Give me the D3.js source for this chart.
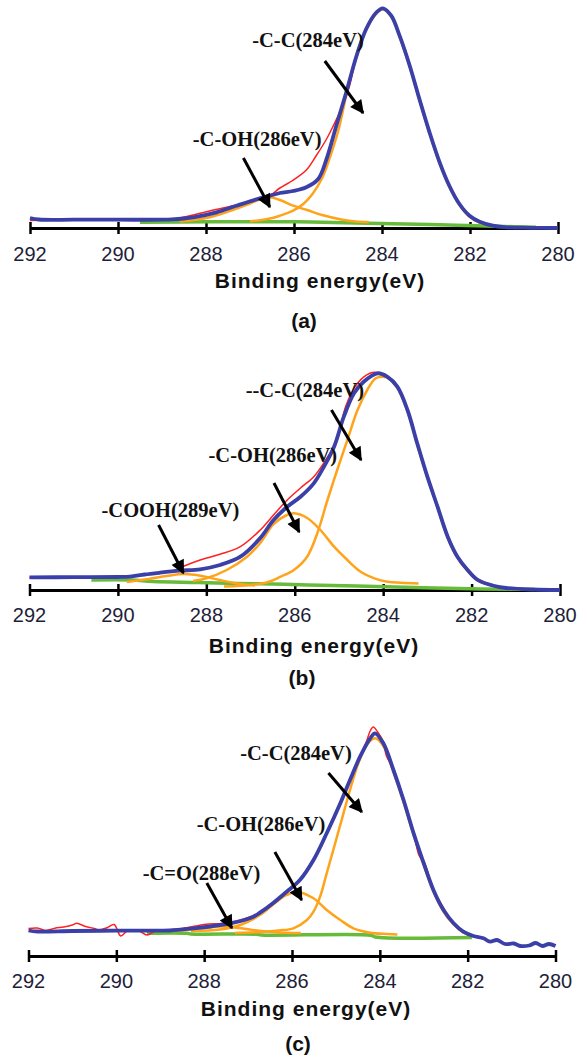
<!DOCTYPE html>
<html>
<head>
<meta charset="utf-8">
<script src="https://cdn.jsdelivr.net/npm/d3@7"></script>
<style>
  body { margin: 0; background: #fff; }
  svg { display: block; }
</style>
</head>
<body>
<svg id="chart" width="587" height="1064"></svg>
<script>
// XPS C1s spectra, three samples. values = [binding energy eV, intensity a.u.]
const ticks = [292, 290, 288, 286, 284, 282, 280];

// ---- (a)
const rawA = [[292.0,7.5],[291.8,7.8],[291.0,8.3],[289.0,8.3],[288.75,8.8],[288.29,13],[287.99,16.3],[287.5,21],[287.0,26],[286.78,29.5],[286.55,32.5],[286.32,40],[286.05,47],[285.72,58],[285.5,72],[285.26,89],[285.12,101],[284.9,122],[284.74,142],[284.58,172.5],[284.36,199.5],[284.13,216],[283.98,219.7],[283.79,212],[283.6,192.5],[283.37,162],[283.15,129.5],[282.92,96],[282.69,66],[282.47,42.5],[282.24,24.5],[282.01,12.5],[281.78,6.8],[281.48,2.8],[281.22,1.0],[280.8,0.3]];
const fitA = [[292.0,10],[291.8,8.5],[291.0,8.3],[290.0,8.3],[289.0,8.3],[288.78,8.6],[288.29,10.7],[287.76,15.7],[287.31,22.3],[286.78,29.7],[286.55,32.3],[286.32,35],[286.02,37],[285.72,40.7],[285.45,49],[285.26,69],[285.04,102],[284.81,136],[284.58,172],[284.36,199],[284.13,215.5],[283.98,219.7],[283.79,212.3],[283.6,192.3],[283.37,162.3],[283.15,129],[282.92,95.7],[282.69,65.7],[282.47,42.3],[282.24,24],[282.01,12.3],[281.78,6.3],[281.48,2.3],[281.22,0.8],[280.6,0.2],[280.0,0]];
const ccA = [[287.0,6.5],[286.6,9],[286.32,12.3],[286.02,17.3],[285.79,24],[285.58,34],[285.36,50],[285.22,66],[284.99,98],[284.81,133],[284.58,171],[284.36,198],[284.13,214.5],[283.98,218.7],[283.79,211.3],[283.6,191.3],[283.37,161.3],[283.15,128],[282.92,94.7],[282.69,64.7],[282.47,41.3],[282.24,23],[282.01,11.3],[281.78,5.5],[281.5,2.5]];
const cohA = [[288.6,6.5],[288.0,10],[287.5,16.5],[287.0,24.5],[286.78,28.5],[286.55,30.7],[286.32,28],[286.02,22.3],[285.72,18.3],[285.36,13],[284.9,8.3],[284.6,6.5],[284.3,6]];
const bgA = [[289.5,5.7],[288.0,6.2],[286.5,6.3],[285.6,6],[284.6,5],[282.9,3.5],[281.2,1.5],[280.5,0.7]];

// ---- (b)
const rawB = [[292.0,12.5],[290.0,13],[289.73,13.3],[289.4,15.5],[289.05,17.3],[288.75,19],[288.5,24],[288.14,30],[287.69,35.7],[287.23,43.3],[286.78,60],[286.48,75],[286.17,90],[285.87,102],[285.57,113.3],[285.3,130],[285.04,150],[284.85,183.3],[284.58,206.7],[284.3,216.7],[284.13,217.5],[283.91,213.5],[283.68,204],[283.45,181],[283.23,147.5],[283.0,114],[282.77,84],[282.54,54],[282.32,34],[282.09,21],[281.86,11],[281.48,4.5],[281.2,2.3],[280.8,1]];
const fitB = [[292.0,12.7],[291.0,12.8],[290.0,13],[289.73,13.3],[289.4,15.5],[289.05,17.3],[288.6,19.3],[288.14,20.7],[287.69,25],[287.23,33.3],[286.78,52],[286.48,70],[286.17,83.3],[285.87,93.3],[285.57,106.7],[285.34,123.3],[285.11,143.3],[284.89,173.3],[284.66,196.7],[284.44,208.3],[284.13,216.7],[283.91,213.3],[283.68,203.3],[283.45,180],[283.23,146.7],[283.0,113.3],[282.77,83.3],[282.54,53.3],[282.32,33.3],[282.09,20],[281.86,10],[281.48,4],[281.22,2],[280.6,0.5],[280.0,0]];
const ccB = [[287.6,3.5],[287.0,5],[286.6,8],[286.32,13.3],[286.02,20],[285.72,33.3],[285.49,56.7],[285.26,90],[285.04,120],[284.81,150],[284.58,180],[284.36,200],[284.17,211.7],[284.01,213.3],[283.91,212.3],[283.68,202.3],[283.45,179],[283.23,145.7],[283.0,112.3],[282.77,82.3],[282.54,52.3],[282.32,32.3],[282.09,19],[281.86,9.5],[281.5,4],[281.2,2]];
const cohB = [[288.3,9],[288.0,11.7],[287.54,20],[287.08,33.3],[286.78,47],[286.48,66],[286.2,74.5],[286.02,76.7],[285.72,72],[285.42,60],[285.11,43.3],[284.81,30],[284.51,18.3],[284.2,11.7],[283.9,8.3],[283.6,7.3],[283.2,6.5]];
const coohB = [[289.8,8],[289.3,11],[288.9,14],[288.5,16],[288.1,14],[287.7,10],[287.3,6.5],[286.9,4.5]];
const bgB = [[290.6,10],[289.7,10],[289.2,8.5],[288.2,7.5],[287.3,6.5],[286.5,6],[285.7,5],[284.6,4],[283.3,2.5],[282.0,1.2],[281.0,0.7],[280.6,0.5]];

// ---- (c)
const rawC = [[292.0,27.5],[291.8,28],[291.6,25.5],[291.4,27.7],[291.2,29],[291.0,31],[290.9,32.7],[290.7,29.5],[290.5,27.5],[290.4,26],[290.2,28.5],[290.05,31.5],[289.9,20],[289.75,25],[289.5,25.5],[289.3,21],[289.1,25.3],[288.8,26],[288.5,27.5],[288.2,30],[287.9,32],[287.6,32.5],[287.3,34.5],[286.9,40],[286.73,44],[286.42,54],[286.12,65],[285.82,77],[285.51,97],[285.21,123.5],[284.9,153.5],[284.68,177],[284.45,200],[284.3,215],[284.22,225],[284.15,229],[284.05,224],[283.92,214],[283.85,200],[283.69,187],[283.46,157],[283.23,123.5],[283.1,100],[283.0,95],[282.78,66.5],[282.55,48],[282.32,33],[282.1,25],[281.87,20]];
const fitC = [[292.0,25.5],[291.8,24.5],[291.0,25],[290.0,25.3],[289.0,25.3],[288.78,25.5],[288.25,27.7],[287.79,30],[287.33,33.3],[286.88,39.3],[286.73,43.3],[286.42,53.3],[286.12,64.3],[285.82,76],[285.51,96],[285.21,122.7],[284.9,152.7],[284.68,176],[284.45,199.3],[284.22,217.7],[284.11,222.7],[283.92,212.7],[283.69,186],[283.46,156],[283.23,122.7],[283.0,92.7],[282.78,66],[282.55,46],[282.32,32.7],[282.1,24.3],[281.87,20],[281.64,17.7],[281.49,14.3],[281.33,16],[281.15,12],[280.95,12.5],[280.8,10],[280.6,10.5],[280.45,13],[280.3,10],[280.15,12],[280.0,10]];
const ccC = [[287.3,23],[286.7,24],[286.3,25.5],[285.97,27.7],[285.66,36],[285.51,44.3],[285.36,59.3],[285.21,82.7],[285.06,106],[284.87,136],[284.68,166],[284.49,192.7],[284.3,211],[284.11,217.7],[283.92,210],[283.69,184],[283.46,154],[283.23,121],[283.0,91],[282.78,64.5],[282.55,44.5],[282.32,31.5],[282.1,23.5],[281.9,20]];
const cohC = [[288.3,25],[287.64,26.5],[287.18,31],[286.73,41],[286.35,54.3],[286.12,61],[285.9,64.3],[285.51,57.7],[285.21,46],[284.9,36],[284.6,27.7],[284.22,23.3],[283.84,22],[283.6,21.5]];
const coC = [[288.6,25],[288.0,28],[287.6,29.5],[287.2,28],[286.8,25.5],[286.3,23.5],[285.8,23]];
const bgC = [[289.3,22.7],[288.4,22.7],[288.3,22],[286.8,21.8],[286.7,21],[284.2,20.8],[284.1,19],[281.9,18.5]];

// annotation labels: text start, arrow tail and tip, all in [eV, intensity]
const notesA = [
  {text: '-C-C(284eV)', at: [286.95, 181], from: [285.3, 167], to: [284.43, 115]},
  {text: '-C-OH(286eV)', at: [288.3, 82], from: [287.15, 70], to: [286.55, 21]}
];
const notesB = [
  {text: '--C-C(284eV)', at: [287.11, 193], from: [285.17, 180], to: [284.5, 130]},
  {text: '-C-OH(286eV)', at: [287.95, 128], from: [286.47, 107], to: [285.9, 58]},
  {text: '-COOH(289eV)', at: [290.37, 73], from: [289.08, 65], to: [288.52, 17]}
];
const notesC = [
  {text: '-C-C(284eV)', at: [287.18, 196], from: [285.17, 183], to: [284.41, 144]},
  {text: '-C-OH(286eV)', at: [288.17, 125], from: [286.39, 104], to: [285.78, 56]},
  {text: '-C=O(288eV)', at: [289.4, 76], from: [287.94, 73], to: [287.37, 28]}
];

const panels = [
  {tag: '(a)', axisY: 228, x0: 30, x1: 558, tickBase: 261, titleBase: 288, titleX: 320, tagBase: 328, tagX: 304,
   raw: rawA, fit: fitA, comps: [ccA, cohA], bg: bgA, notes: notesA},
  {tag: '(b)', axisY: 590, x0: 29.5, x1: 560, tickBase: 622, titleBase: 653, titleX: 314, tagBase: 685, tagX: 302,
   raw: rawB, fit: fitB, comps: [ccB, cohB, coohB], bg: bgB, notes: notesB},
  {tag: '(c)', axisY: 956, x0: 28.5, x1: 555.5, tickBase: 988, titleBase: 1016, titleX: 306, tagBase: 1051, tagX: 298,
   raw: rawC, fit: fitC, comps: [ccC, cohC, coC], bg: bgC, notes: notesC}
];

const svg = d3.select('#chart');

svg.append('defs').append('marker')
  .attr('id', 'head')
  .attr('viewBox', '0 0 10 10')
  .attr('refX', 9).attr('refY', 5)
  .attr('markerWidth', 5.5).attr('markerHeight', 4.6)
  .attr('markerUnits', 'strokeWidth')
  .attr('orient', 'auto')
  .append('path').attr('d', 'M0,0 L10,5 L0,10 Z').attr('fill', '#000');

panels.forEach(p => {
  const x = d3.scaleLinear().domain([292, 280]).range([p.x0, p.x1]);
  const y = d3.scaleLinear().domain([0, 230]).range([p.axisY, p.axisY - 230]);
  const g = svg.append('g');

  // axis: thick black bar with ticks crossing it
  const axis = d3.axisBottom(x).tickValues(ticks).tickSize(0).tickFormat('');
  const ag = g.append('g').attr('transform', `translate(0,${p.axisY})`).call(axis);
  ag.select('.domain').attr('stroke', '#000').attr('stroke-width', 3);
  ag.selectAll('.tick line').remove();
  ag.selectAll('.tick').append('line')
    .attr('y1', -6).attr('y2', 6)
    .attr('stroke', '#000').attr('stroke-width', 2.5);

  g.selectAll('.ticklab')
    .data(ticks)
    .enter().append('text')
    .attr('x', d => x(d))
    .attr('y', p.tickBase)
    .attr('text-anchor', 'middle')
    .style('font-family', 'Liberation Sans, Arial, sans-serif')
    .style('font-size', '20px')
    .attr('fill', '#1e1e3a')
    .text(d => d);

  const line = d3.line()
    .x(d => x(d[0]))
    .y(d => y(d[1]))
    .curve(d3.curveCatmullRom.alpha(0.5));

  g.append('path').datum(p.bg).attr('d', line)
    .attr('fill', 'none').attr('stroke', '#66bb3a').attr('stroke-width', 3.5);
  p.comps.forEach(c => {
    g.append('path').datum(c).attr('d', line)
      .attr('fill', 'none').attr('stroke', '#ffa31a').attr('stroke-width', 2.5);
  });
  g.append('path').datum(p.raw).attr('d', line)
    .attr('fill', 'none').attr('stroke', '#ff2020').attr('stroke-width', 1.5);
  g.append('path').datum(p.fit).attr('d', line)
    .attr('fill', 'none').attr('stroke', '#3b3fa8').attr('stroke-width', 3.8);

  // labels + arrows
  p.notes.forEach(n => {
    g.append('text')
      .attr('x', x(n.at[0])).attr('y', y(n.at[1]))
      .style('font-family', 'Liberation Serif, Times New Roman, serif')
      .style('font-weight', 'bold')
      .style('font-size', '20.5px')
      .attr('fill', '#111')
      .text(n.text);
    g.append('line')
      .attr('x1', x(n.from[0])).attr('y1', y(n.from[1]))
      .attr('x2', x(n.to[0])).attr('y2', y(n.to[1]))
      .attr('stroke', '#000').attr('stroke-width', 3)
      .attr('marker-end', 'url(#head)');
  });

  g.append('text')
    .attr('x', p.titleX).attr('y', p.titleBase)
    .attr('text-anchor', 'middle')
    .style('font-family', 'Liberation Sans, Arial, sans-serif')
    .style('font-weight', 'bold')
    .style('font-size', '21px')
    .style('letter-spacing', '1px')
    .attr('fill', '#111')
    .text('Binding energy(eV)');

  g.append('text')
    .attr('x', p.tagX).attr('y', p.tagBase)
    .attr('text-anchor', 'middle')
    .style('font-family', 'Liberation Sans, Arial, sans-serif')
    .style('font-weight', 'bold')
    .style('font-size', '21px')
    .attr('fill', '#111')
    .text(p.tag);
});
</script>
</body>
</html>
